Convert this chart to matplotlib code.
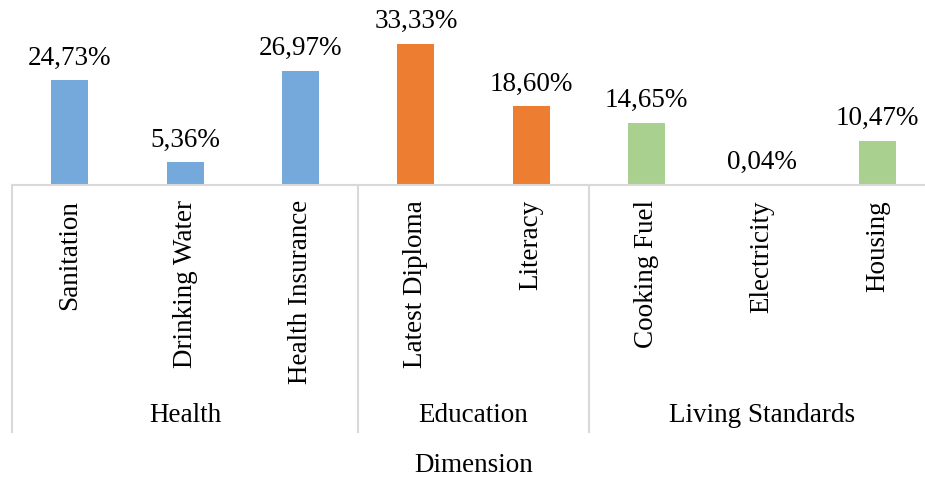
import matplotlib
matplotlib.use("Agg")
import matplotlib.pyplot as plt
import matplotlib.transforms as mtransforms

plt.rcParams["font.family"] = ["Liberation Serif", "DejaVu Serif"]

indicators = ["Sanitation", "Drinking Water", "Health Insurance",
              "Latest Diploma", "Literacy",
              "Cooking Fuel", "Electricity", "Housing"]
values = [24.73, 5.36, 26.97, 33.33, 18.60, 14.65, 0.04, 10.47]
groups = ["Health", "Education", "Living Standards"]
group_sizes = [3, 2, 3]
group_colors = ["#75a9db", "#ed7d31", "#a9d08e"]

W, H = 925, 479
fig = plt.figure(figsize=(W / 100, H / 100), dpi=100)
# axes run slightly past the right edge, like the cropped Excel chart
ax = fig.add_axes([12 / W, (H - 185) / H, 923 / W, 148 / H])

colors = []
for size, c in zip(group_sizes, group_colors):
    colors += [c] * size

x = list(range(len(indicators)))
bars = ax.bar(x, values, width=0.32, color=colors, zorder=2)
ax.set_xlim(-0.5, len(indicators) - 0.5)
ax.set_ylim(0, 35)

for b, v in zip(bars, values):
    ax.annotate(f"{v:.2f}".replace(".", ",") + "%",
                (b.get_x() + b.get_width() / 2, b.get_height()),
                xytext=(0, 7), textcoords="offset points",
                ha="center", va="bottom", fontsize=19.5, annotation_clip=False)

for s in ["top", "right", "left"]:
    ax.spines[s].set_visible(False)
ax.spines["bottom"].set_color("#d9d9d9")
ax.spines["bottom"].set_linewidth(1.5)
ax.set_xticks([])
ax.set_yticks([])

trans = mtransforms.blended_transform_factory(ax.transData, fig.transFigure)
label_top = (H - 200) / H
for xi, name in zip(x, indicators):
    ax.text(xi, label_top, name, rotation=90, ha="center", va="top",
            fontsize=19.5, transform=trans)

# group separators and labels
y_top = (H - 185) / H
y_bot = (H - 432) / H
start = -0.5
bounds = [start]
for size in group_sizes:
    bounds.append(bounds[-1] + size)
for bx in bounds:
    ax.plot([bx, bx], [y_top, y_bot], color="#d9d9d9", lw=1.5,
            transform=trans, clip_on=False)
for g, a, b in zip(groups, bounds[:-1], bounds[1:]):
    ax.text((a + b) / 2, (H - 415) / H, g, ha="center", va="center",
            fontsize=19.5, transform=trans)

ax.text((bounds[0] + bounds[-1]) / 2, (H - 465) / H, "Dimension",
        ha="center", va="center", fontsize=19.5, transform=trans)

fig.savefig("out.png", dpi=100)
